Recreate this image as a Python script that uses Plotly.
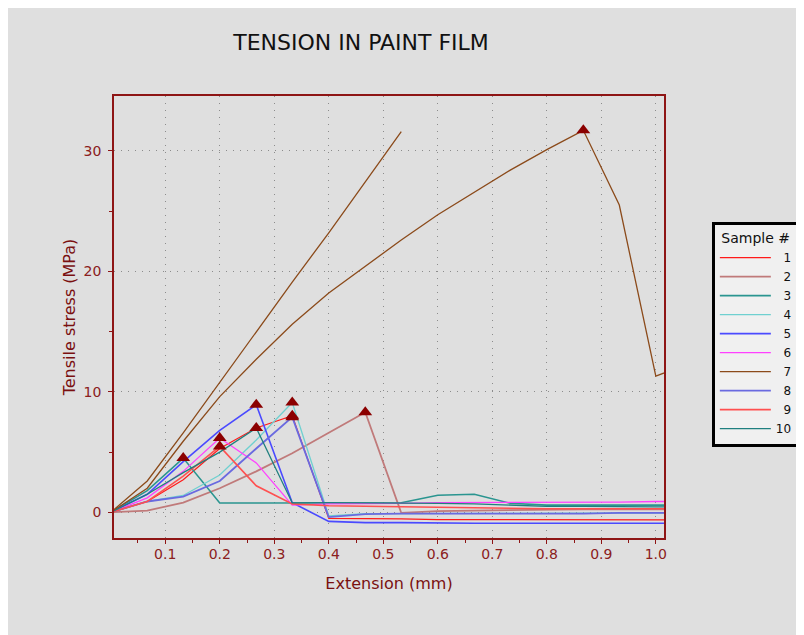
import plotly.graph_objects as go

# ---- data -------------------------------------------------------------
EXT = [0, 0.067, 0.133, 0.2, 0.267, 0.333, 0.4, 0.467, 0.533, 0.6, 0.667,
       0.733, 0.8, 0.867, 0.933, 1.0, 1.067]

SAMPLES = ["1", "2", "3", "4", "5", "6", "7", "8", "9", "10"]

S1 = [0, 0.9, 2.7, 5.3, 7.0, 8.02, -0.5, -0.5, -0.55, -0.6, -0.6, -0.62, -0.62, -0.63, -0.63, -0.63, -0.63]
S2 = [0, 0.15, 0.8, 2.0, 3.4, 4.9, 6.6, 8.3, -0.05, 0.1, 0.15, 0.2, 0.2, 0.25, 0.25, 0.25, 0.25]
S3 = [0, 1.8, 4.5, 0.78, 0.78, 0.78, 0.78, 0.78, 0.8, 1.42, 1.5, 0.75, 0.6, 0.6, 0.6, 0.6, 0.6]
S4 = [0, 0.9, 1.4, 3.1, 6.0, 9.12, -0.3, -0.1, -0.1, -0.1, -0.1, -0.1, -0.1, -0.05, -0.05, -0.05, -0.05]
S5 = [0, 1.5, 4.2, 6.8, 8.93, 0.8, -0.75, -0.85, -0.85, -0.9, -0.9, -0.9, -0.9, -0.9, -0.9, -0.9, -0.9]
S6 = [0, 1.2, 3.4, 6.17, 4.1, 0.6, 0.7, 0.7, 0.75, 0.8, 0.8, 0.8, 0.8, 0.8, 0.85, 0.9, 0.9]
S7 = [0, 2.0, 5.9, 9.6, 12.7, 15.6, 18.2, 20.4, 22.6, 24.7, 26.6, 28.4, 30.1, 31.7, 25.5, 11.3, 12.5]
S8 = [0, 0.9, 1.3, 2.6, 5.3, 7.9, -0.4, -0.15, -0.1, -0.1, -0.1, -0.15, -0.15, -0.1, -0.05, -0.05, -0.05]
S9 = [0, 0.9, 3.0, 5.47, 2.2, 0.7, 0.55, 0.5, 0.45, 0.45, 0.35, 0.3, 0.3, 0.3, 0.3, 0.3, 0.3]
S10 = [0, 1.5, 3.3, 5.0, 7.0, 0.78, 0.8, 0.8, 0.8, 0.75, 0.7, 0.6, 0.5, 0.5, 0.45, 0.45, 0.45]

# second (straight) brown record of sample 7, ending at top
EXT7B = [0, 0.067, 0.133, 0.2, 0.267, 0.333, 0.4, 0.467, 0.533]
S7B = [0, 2.6, 6.6, 10.8, 15.0, 19.1, 23.2, 27.4, 31.6]

SERIES = [S1, S2, S3, S4, S5, S6, S7, S8, S9, S10]
COLORS = ["#ff1a1a", "#c07a7a", "#2a9590", "#6fd0d0", "#4a4aff",
          "#ff40ff", "#8b4a1a", "#6a6ae0", "#ff5050", "#1f7f7f"]
WIDTHS = [1.2, 1.8, 1.6, 1.3, 1.6, 1.3, 1.3, 1.8, 1.6, 1.3]

AXIS_RED = "#8e1515"
TEXT_RED = "#8b2020"
FONT = "DejaVu Sans, Verdana, sans-serif"
X_RANGE = [0.006, 1.015]
Y_RANGE = [-2.13, 34.55]

fig = go.Figure()

for name, ys, col, w in zip(SAMPLES, SERIES, COLORS, WIDTHS):
    label = name if len(name) > 1 else "\u2007" + name
    fig.add_trace(go.Scatter(x=EXT, y=ys, mode="lines", name=label,
                             line=dict(color=col, width=w)))

fig.add_trace(go.Scatter(x=EXT7B, y=S7B, mode="lines", showlegend=False,
                         line=dict(color=COLORS[6], width=WIDTHS[6]), hoverinfo="skip"))

# peak markers (maximum of each sample)
px, py = [], []
for ys in SERIES:
    i = max(range(len(ys)), key=lambda k: ys[k])
    px.append(EXT[i])
    py.append(ys[i])
fig.add_trace(go.Scatter(x=px, y=py, mode="markers", showlegend=False,
                         marker=dict(symbol="triangle-up", size=12, color="#8b0000",
                                     line=dict(width=0))))

grid = dict(showgrid=True, gridcolor="#8c8c8c", griddash="1px,6px", gridwidth=1)

fig.update_layout(
    width=796, height=627,
    margin=dict(l=106, r=140, t=88, b=97, autoexpand=False),
    paper_bgcolor="#dfdfdf", plot_bgcolor="#dfdfdf",
    font=dict(family=FONT, color=TEXT_RED, size=14),
    title=dict(text="TENSION IN PAINT FILM", x=0.4435, xref="container", xanchor="center",
               y=1 - 34 / 627, yref="container", yanchor="middle",
               font=dict(family=FONT, size=22, color="#111111")),
    showlegend=True,
    legend=dict(x=1.087, xanchor="left", y=0.715, yanchor="top",
                bgcolor="#f0f0f0", bordercolor="#000000", borderwidth=3,
                font=dict(family=FONT, size=12, color="#111111"),
                title=dict(text="\u00a0Sample #", font=dict(family=FONT, size=14, color="#111111")),
                itemwidth=51, tracegroupgap=0),
    xaxis=dict(range=X_RANGE, autorange=False, tick0=0, dtick=0.1, tickformat=".1f",
               ticks="outside", ticklen=4, tickcolor=AXIS_RED, tickwidth=1,
               minor=dict(ticks="outside", ticklen=3, dtick=0.05, tick0=0, tickcolor=AXIS_RED),
               showline=True, linecolor=AXIS_RED, linewidth=1.5, mirror=True,
               zeroline=False, ticklabelstandoff=-2,
               tickfont=dict(family=FONT, size=14, color=TEXT_RED),
               title=dict(text="Extension (mm)", standoff=17,
                          font=dict(family=FONT, size=16, color="#7a1010")),
               **grid),
    yaxis=dict(range=Y_RANGE, autorange=False, tick0=0, dtick=10,
               ticks="outside", ticklen=4, tickcolor=AXIS_RED, tickwidth=1,
               minor=dict(ticks="outside", ticklen=3, dtick=5, tick0=0, tickcolor=AXIS_RED),
               showline=True, linecolor=AXIS_RED, linewidth=1.5, mirror=True,
               zeroline=False, ticklabelstandoff=4,
               tickfont=dict(family=FONT, size=14, color=TEXT_RED),
               title=dict(text="Tensile stress (MPa)", standoff=4,
                          font=dict(family=FONT, size=16, color="#7a1010")),
               **grid),
    # inner halves of the crossing ticks
    xaxis2=dict(overlaying="x", anchor="y", side="bottom", range=X_RANGE, autorange=False,
                tick0=0, dtick=0.1, ticks="inside", ticklen=3, tickcolor=AXIS_RED,
                minor=dict(ticks="inside", ticklen=2, dtick=0.05, tick0=0, tickcolor=AXIS_RED),
                showticklabels=False, showgrid=False, showline=False, zeroline=False),
    xaxis3=dict(overlaying="x", anchor="y", side="top", range=X_RANGE, autorange=False,
                tick0=0, dtick=0.1, ticks="inside", ticklen=3, tickcolor=AXIS_RED,
                showticklabels=False, showgrid=False, showline=False, zeroline=False),
    yaxis2=dict(overlaying="y", anchor="x", side="left", range=Y_RANGE, autorange=False,
                tick0=0, dtick=10, ticks="inside", ticklen=3, tickcolor=AXIS_RED,
                minor=dict(ticks="inside", ticklen=2, dtick=5, tick0=0, tickcolor=AXIS_RED),
                showticklabels=False, showgrid=False, showline=False, zeroline=False),
)

fig.write_html("out.html")
